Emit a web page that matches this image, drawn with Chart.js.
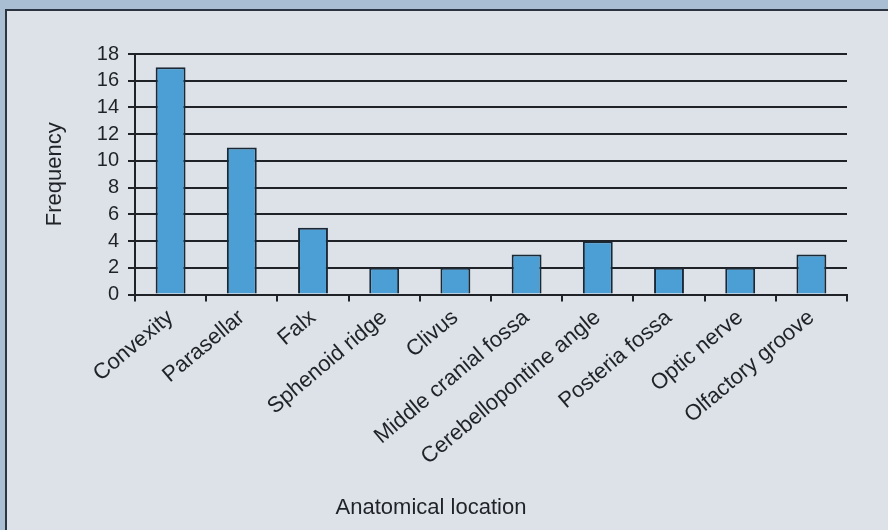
<!DOCTYPE html>
<html>
<head>
<meta charset="utf-8">
<title>Frequency by anatomical location</title>
<script src="https://cdn.jsdelivr.net/npm/chart.js@4/dist/chart.umd.min.js"></script>
<style>
  html, body { margin: 0; padding: 0; background: #a9bed3; }
  canvas { display: block; }
</style>
</head>
<body>
<canvas id="chart" width="888" height="530"></canvas>
<script>
// data
const locations = [
  "Convexity", "Parasellar", "Falx", "Sphenoid ridge", "Clivus",
  "Middle cranial fossa", "Cerebellopontine angle", "Posteria fossa",
  "Optic nerve", "Olfactory groove"
];
const frequency = [17, 11, 5, 2, 2, 3, 4, 2, 2, 3];
const yTicks = [0, 2, 4, 6, 8, 10, 12, 14, 16, 18];

const INK = "#1f2226";
const FONT = "'Liberation Sans', Arial, sans-serif";

// page background + frame of the scanned figure
const pagePlugin = {
  id: "page",
  beforeDraw(chart) {
    const ctx = chart.ctx;
    const w = chart.width, h = chart.height;
    ctx.save();
    ctx.fillStyle = "#a9bed3";
    ctx.fillRect(0, 0, w, h);
    ctx.fillStyle = "#dce2e8";
    ctx.fillRect(6, 10, w - 6, h - 10);
    ctx.strokeStyle = "#2b3440";
    ctx.lineWidth = 2;
    ctx.beginPath();
    ctx.moveTo(6, h);
    ctx.lineTo(6, 10);
    ctx.lineTo(w, 10);
    ctx.stroke();
    ctx.restore();
  }
};

new Chart(document.getElementById("chart"), {
  type: "bar",
  data: {
    labels: locations,
    datasets: [{
      label: "Frequency",
      data: frequency,
      backgroundColor: "#4b9fd4",
      borderColor: "#1b2836",
      borderWidth: 2,
      categoryPercentage: 1,
      barPercentage: 0.42
    }]
  },
  options: {
    responsive: false,
    animation: false,
    devicePixelRatio: 1,
    layout: { padding: { top: 54, left: 15, right: 41, bottom: 0 } },
    plugins: {
      legend: { display: false },
      tooltip: { enabled: false },
      title: {
        display: true,
        position: "bottom",
        text: "Anatomical location",
        color: INK,
        font: { family: FONT, size: 22, weight: "normal" },
        padding: { top: 0, bottom: 9 }
      }
    },
    scales: {
      x: {
        afterFit: s => { s.height = 200; },
        grid: {
          offset: true,
          drawOnChartArea: true,
          color: c => c.index === locations.length ? INK : "rgba(0,0,0,0)",
          tickColor: INK,
          tickLength: 7,
          lineWidth: 2
        },
        border: { display: true, color: INK, width: 2 },
        ticks: {
          autoSkip: false,
          minRotation: 40,
          maxRotation: 40,
          padding: 3,
          color: INK,
          font: { family: FONT, size: 22 }
        }
      },
      y: {
        min: yTicks[0],
        max: yTicks[yTicks.length - 1],
        afterFit: s => { s.width = 120; },
        afterBuildTicks: s => { s.ticks = yTicks.map(v => ({ value: v })); },
        grid: {
          color: INK,
          tickColor: INK,
          tickLength: 7,
          lineWidth: 2
        },
        border: { display: true, color: INK, width: 2 },
        ticks: {
          autoSkip: false,
          stepSize: 2,
          padding: 9,
          color: INK,
          font: { family: FONT, size: 20 }
        },
        title: {
          display: true,
          text: "Frequency",
          color: INK,
          font: { family: FONT, size: 22 },
          padding: { top: 27, bottom: 0 }
        }
      }
    }
  },
  plugins: [pagePlugin]
});
</script>
</body>
</html>
